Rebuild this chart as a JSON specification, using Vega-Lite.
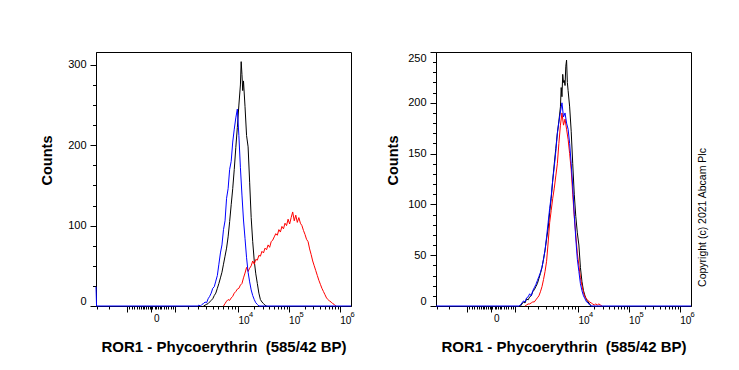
{
"$schema": "https://vega.github.io/schema/vega-lite/v6.json",
"background": "white",
"padding": {"left": 38, "top": 51, "right": 5, "bottom": 5},
"config": {
 "font": "Liberation Sans",
 "view": {"stroke": "#000", "strokeWidth": 1},
 "axis": {"domainColor": "#000", "tickColor": "#000", "labelColor": "#000", "titleColor": "#000", "labelFont": "Liberation Sans", "titleFont": "Liberation Sans", "titleFontSize": 14.5, "titleFontWeight": "bold", "grid": false, "domainWidth": 1, "tickWidth": 1},
 "axisX": {"labelFontSize": 10, "titleFontSize": 15},
 "axisY": {"labelFontSize": 11}
},
"spacing": 29,
"datasets": {"h": [
{"p":"L","s":"b","x":-2210,"y":24},{"p":"L","s":"b","x":-2150,"y":0},
{"p":"L","s":"b","x":1400,"y":0},{"p":"L","s":"b","x":1515,"y":1},{"p":"L","s":"b","x":1638,"y":0},{"p":"L","s":"b","x":1770,"y":2},{"p":"L","s":"b","x":1911,"y":3},{"p":"L","s":"b","x":2063,"y":5},{"p":"L","s":"b","x":2225,"y":4},{"p":"L","s":"b","x":2399,"y":9},{"p":"L","s":"b","x":2586,"y":12},{"p":"L","s":"b","x":2786,"y":16},{"p":"L","s":"b","x":3000,"y":22},{"p":"L","s":"b","x":3230,"y":24},{"p":"L","s":"b","x":3476,"y":31},{"p":"L","s":"b","x":3740,"y":38},{"p":"L","s":"b","x":4022,"y":52},{"p":"L","s":"b","x":4326,"y":66},{"p":"L","s":"b","x":4650,"y":76},{"p":"L","s":"b","x":4998,"y":95},{"p":"L","s":"b","x":5372,"y":106},{"p":"L","s":"b","x":5771,"y":134},{"p":"L","s":"b","x":6200,"y":146},{"p":"L","s":"b","x":6659,"y":170},{"p":"L","s":"b","x":7152,"y":180},{"p":"L","s":"b","x":7679,"y":204},{"p":"L","s":"b","x":8245,"y":220},{"p":"L","s":"b","x":8851,"y":234},{"p":"L","s":"b","x":9501,"y":245},{"p":"L","s":"b","x":10197,"y":212},{"p":"L","s":"b","x":10943,"y":172},{"p":"L","s":"b","x":11743,"y":138},{"p":"L","s":"b","x":12600,"y":107},{"p":"L","s":"b","x":13519,"y":84},{"p":"L","s":"b","x":14503,"y":60},{"p":"L","s":"b","x":15559,"y":42},{"p":"L","s":"b","x":16690,"y":30},{"p":"L","s":"b","x":17902,"y":20},{"p":"L","s":"b","x":19201,"y":13},{"p":"L","s":"b","x":20594,"y":8},{"p":"L","s":"b","x":22086,"y":4},{"p":"L","s":"b","x":23686,"y":2},{"p":"L","s":"b","x":25400,"y":0},{"p":"L","s":"b","x":1628000,"y":0},
{"p":"L","s":"k","x":1911,"y":0},{"p":"L","s":"k","x":2063,"y":1},{"p":"L","s":"k","x":2225,"y":2},{"p":"L","s":"k","x":2399,"y":3},{"p":"L","s":"k","x":2586,"y":5},{"p":"L","s":"k","x":2786,"y":7},{"p":"L","s":"k","x":3000,"y":9},{"p":"L","s":"k","x":3230,"y":13},{"p":"L","s":"k","x":3476,"y":16},{"p":"L","s":"k","x":3740,"y":22},{"p":"L","s":"k","x":4022,"y":28},{"p":"L","s":"k","x":4326,"y":35},{"p":"L","s":"k","x":4650,"y":42},{"p":"L","s":"k","x":4998,"y":52},{"p":"L","s":"k","x":5372,"y":62},{"p":"L","s":"k","x":5771,"y":72},{"p":"L","s":"k","x":6200,"y":86},{"p":"L","s":"k","x":6659,"y":105},{"p":"L","s":"k","x":7152,"y":126},{"p":"L","s":"k","x":7679,"y":146},{"p":"L","s":"k","x":8245,"y":170},{"p":"L","s":"k","x":8851,"y":197},{"p":"L","s":"k","x":9501,"y":222},{"p":"L","s":"k","x":10197,"y":250},{"p":"L","s":"k","x":10943,"y":275},{"p":"L","s":"k","x":11336,"y":304},{"p":"L","s":"k","x":11743,"y":288},{"p":"L","s":"k","x":12164,"y":268},{"p":"L","s":"k","x":12600,"y":280},{"p":"L","s":"k","x":13519,"y":248},{"p":"L","s":"k","x":14503,"y":212},{"p":"L","s":"k","x":15559,"y":198},{"p":"L","s":"k","x":16690,"y":154},{"p":"L","s":"k","x":17902,"y":110},{"p":"L","s":"k","x":19201,"y":80},{"p":"L","s":"k","x":20594,"y":56},{"p":"L","s":"k","x":22086,"y":40},{"p":"L","s":"k","x":23686,"y":28},{"p":"L","s":"k","x":25400,"y":16},{"p":"L","s":"k","x":27237,"y":8},{"p":"L","s":"k","x":29207,"y":5},{"p":"L","s":"k","x":31317,"y":3},{"p":"L","s":"k","x":33579,"y":1},{"p":"L","s":"k","x":36004,"y":0},
{"p":"L","s":"r","x":4998,"y":0},{"p":"L","s":"r","x":5372,"y":3},{"p":"L","s":"r","x":5771,"y":6},{"p":"L","s":"r","x":6200,"y":8},{"p":"L","s":"r","x":6659,"y":7},{"p":"L","s":"r","x":7152,"y":10},{"p":"L","s":"r","x":7679,"y":12},{"p":"L","s":"r","x":8245,"y":16},{"p":"L","s":"r","x":8851,"y":18},{"p":"L","s":"r","x":9501,"y":21},{"p":"L","s":"r","x":10197,"y":22},{"p":"L","s":"r","x":10943,"y":26},{"p":"L","s":"r","x":11743,"y":28},{"p":"L","s":"r","x":12600,"y":35},{"p":"L","s":"r","x":13519,"y":41},{"p":"L","s":"r","x":14503,"y":48},{"p":"L","s":"r","x":15559,"y":43},{"p":"L","s":"r","x":16690,"y":47},{"p":"L","s":"r","x":17902,"y":50},{"p":"L","s":"r","x":19201,"y":56},{"p":"L","s":"r","x":20594,"y":52},{"p":"L","s":"r","x":22086,"y":58},{"p":"L","s":"r","x":23686,"y":57},{"p":"L","s":"r","x":25400,"y":63},{"p":"L","s":"r","x":27237,"y":62},{"p":"L","s":"r","x":29207,"y":68},{"p":"L","s":"r","x":31317,"y":66},{"p":"L","s":"r","x":33579,"y":72},{"p":"L","s":"r","x":36004,"y":70},{"p":"L","s":"r","x":38602,"y":76},{"p":"L","s":"r","x":41387,"y":73},{"p":"L","s":"r","x":44372,"y":80},{"p":"L","s":"r","x":47571,"y":82},{"p":"L","s":"r","x":51000,"y":86},{"p":"L","s":"r","x":54675,"y":90},{"p":"L","s":"r","x":58613,"y":88},{"p":"L","s":"r","x":62835,"y":95},{"p":"L","s":"r","x":67359,"y":92},{"p":"L","s":"r","x":72208,"y":99},{"p":"L","s":"r","x":77405,"y":96},{"p":"L","s":"r","x":82975,"y":103},{"p":"L","s":"r","x":88944,"y":100},{"p":"L","s":"r","x":95343,"y":108},{"p":"L","s":"r","x":102200,"y":102},{"p":"L","s":"r","x":109550,"y":110},{"p":"L","s":"r","x":117427,"y":117},{"p":"L","s":"r","x":125869,"y":106},{"p":"L","s":"r","x":134918,"y":113},{"p":"L","s":"r","x":144616,"y":104},{"p":"L","s":"r","x":155009,"y":110},{"p":"L","s":"r","x":166149,"y":103},{"p":"L","s":"r","x":178089,"y":100},{"p":"L","s":"r","x":190885,"y":94},{"p":"L","s":"r","x":204600,"y":89},{"p":"L","s":"r","x":219299,"y":83},{"p":"L","s":"r","x":235053,"y":80},{"p":"L","s":"r","x":251938,"y":71},{"p":"L","s":"r","x":270035,"y":64},{"p":"L","s":"r","x":289431,"y":56},{"p":"L","s":"r","x":310219,"y":50},{"p":"L","s":"r","x":332499,"y":44},{"p":"L","s":"r","x":356377,"y":38},{"p":"L","s":"r","x":381970,"y":32},{"p":"L","s":"r","x":409400,"y":27},{"p":"L","s":"r","x":438798,"y":22},{"p":"L","s":"r","x":470307,"y":18},{"p":"L","s":"r","x":504077,"y":14},{"p":"L","s":"r","x":540270,"y":10},{"p":"L","s":"r","x":579062,"y":8},{"p":"L","s":"r","x":620638,"y":6},{"p":"L","s":"r","x":665197,"y":5},{"p":"L","s":"r","x":712955,"y":3},{"p":"L","s":"r","x":764141,"y":2},{"p":"L","s":"r","x":819000,"y":0},
{"p":"R","s":"k","x":546,"y":0},{"p":"R","s":"k","x":600,"y":2},{"p":"R","s":"k","x":657,"y":4},{"p":"R","s":"k","x":719,"y":3},{"p":"R","s":"k","x":785,"y":7},{"p":"R","s":"k","x":856,"y":6},{"p":"R","s":"k","x":931,"y":9},{"p":"R","s":"k","x":1013,"y":10},{"p":"R","s":"k","x":1100,"y":14},{"p":"R","s":"k","x":1193,"y":16},{"p":"R","s":"k","x":1293,"y":19},{"p":"R","s":"k","x":1400,"y":22},{"p":"R","s":"k","x":1515,"y":27},{"p":"R","s":"k","x":1638,"y":32},{"p":"R","s":"k","x":1770,"y":38},{"p":"R","s":"k","x":1911,"y":46},{"p":"R","s":"k","x":2063,"y":55},{"p":"R","s":"k","x":2225,"y":66},{"p":"R","s":"k","x":2399,"y":76},{"p":"R","s":"k","x":2586,"y":92},{"p":"R","s":"k","x":2786,"y":106},{"p":"R","s":"k","x":3000,"y":124},{"p":"R","s":"k","x":3230,"y":140},{"p":"R","s":"k","x":3476,"y":155},{"p":"R","s":"k","x":3740,"y":170},{"p":"R","s":"k","x":4022,"y":182},{"p":"R","s":"k","x":4326,"y":196},{"p":"R","s":"k","x":4485,"y":215},{"p":"R","s":"k","x":4650,"y":206},{"p":"R","s":"k","x":4821,"y":228},{"p":"R","s":"k","x":4998,"y":220},{"p":"R","s":"k","x":5182,"y":222},{"p":"R","s":"k","x":5372,"y":217},{"p":"R","s":"k","x":5568,"y":236},{"p":"R","s":"k","x":5771,"y":242},{"p":"R","s":"k","x":5982,"y":220},{"p":"R","s":"k","x":6200,"y":212},{"p":"R","s":"k","x":6659,"y":196},{"p":"R","s":"k","x":7152,"y":172},{"p":"R","s":"k","x":7679,"y":140},{"p":"R","s":"k","x":8245,"y":110},{"p":"R","s":"k","x":8851,"y":88},{"p":"R","s":"k","x":9501,"y":72},{"p":"R","s":"k","x":10197,"y":60},{"p":"R","s":"k","x":10943,"y":38},{"p":"R","s":"k","x":11743,"y":24},{"p":"R","s":"k","x":12600,"y":15},{"p":"R","s":"k","x":13519,"y":10},{"p":"R","s":"k","x":14503,"y":6},{"p":"R","s":"k","x":15559,"y":4},{"p":"R","s":"k","x":16690,"y":2},{"p":"R","s":"k","x":17902,"y":0},
{"p":"R","s":"r","x":719,"y":0},{"p":"R","s":"r","x":785,"y":1},{"p":"R","s":"r","x":856,"y":2},{"p":"R","s":"r","x":931,"y":2},{"p":"R","s":"r","x":1013,"y":3},{"p":"R","s":"r","x":1100,"y":4},{"p":"R","s":"r","x":1193,"y":4},{"p":"R","s":"r","x":1293,"y":6},{"p":"R","s":"r","x":1400,"y":8},{"p":"R","s":"r","x":1515,"y":10},{"p":"R","s":"r","x":1638,"y":14},{"p":"R","s":"r","x":1770,"y":19},{"p":"R","s":"r","x":1911,"y":26},{"p":"R","s":"r","x":2063,"y":34},{"p":"R","s":"r","x":2225,"y":44},{"p":"R","s":"r","x":2399,"y":62},{"p":"R","s":"r","x":2586,"y":82},{"p":"R","s":"r","x":2786,"y":94},{"p":"R","s":"r","x":3000,"y":106},{"p":"R","s":"r","x":3230,"y":116},{"p":"R","s":"r","x":3476,"y":128},{"p":"R","s":"r","x":3740,"y":140},{"p":"R","s":"r","x":4022,"y":160},{"p":"R","s":"r","x":4326,"y":178},{"p":"R","s":"r","x":4650,"y":190},{"p":"R","s":"r","x":4998,"y":178},{"p":"R","s":"r","x":5372,"y":184},{"p":"R","s":"r","x":5771,"y":174},{"p":"R","s":"r","x":6200,"y":164},{"p":"R","s":"r","x":6659,"y":150},{"p":"R","s":"r","x":7152,"y":134},{"p":"R","s":"r","x":7679,"y":110},{"p":"R","s":"r","x":8245,"y":88},{"p":"R","s":"r","x":8851,"y":70},{"p":"R","s":"r","x":9501,"y":52},{"p":"R","s":"r","x":10197,"y":40},{"p":"R","s":"r","x":10943,"y":28},{"p":"R","s":"r","x":11743,"y":20},{"p":"R","s":"r","x":12600,"y":13},{"p":"R","s":"r","x":13519,"y":9},{"p":"R","s":"r","x":14503,"y":7},{"p":"R","s":"r","x":15559,"y":5},{"p":"R","s":"r","x":16690,"y":4},{"p":"R","s":"r","x":17902,"y":3},{"p":"R","s":"r","x":19201,"y":2},{"p":"R","s":"r","x":20594,"y":1},{"p":"R","s":"r","x":22086,"y":2},{"p":"R","s":"r","x":23686,"y":1},{"p":"R","s":"r","x":25400,"y":2},{"p":"R","s":"r","x":27237,"y":1},{"p":"R","s":"r","x":29207,"y":0},
{"p":"R","s":"b","x":-2210,"y":0},{"p":"R","s":"b","x":496,"y":0},{"p":"R","s":"b","x":546,"y":1},{"p":"R","s":"b","x":600,"y":3},{"p":"R","s":"b","x":657,"y":5},{"p":"R","s":"b","x":719,"y":4},{"p":"R","s":"b","x":785,"y":8},{"p":"R","s":"b","x":856,"y":9},{"p":"R","s":"b","x":931,"y":12},{"p":"R","s":"b","x":1013,"y":10},{"p":"R","s":"b","x":1100,"y":15},{"p":"R","s":"b","x":1193,"y":18},{"p":"R","s":"b","x":1293,"y":21},{"p":"R","s":"b","x":1400,"y":25},{"p":"R","s":"b","x":1515,"y":29},{"p":"R","s":"b","x":1638,"y":33},{"p":"R","s":"b","x":1770,"y":38},{"p":"R","s":"b","x":1911,"y":46},{"p":"R","s":"b","x":2063,"y":55},{"p":"R","s":"b","x":2225,"y":68},{"p":"R","s":"b","x":2399,"y":82},{"p":"R","s":"b","x":2586,"y":96},{"p":"R","s":"b","x":2786,"y":108},{"p":"R","s":"b","x":3000,"y":124},{"p":"R","s":"b","x":3230,"y":137},{"p":"R","s":"b","x":3476,"y":152},{"p":"R","s":"b","x":3740,"y":170},{"p":"R","s":"b","x":4022,"y":181},{"p":"R","s":"b","x":4326,"y":191},{"p":"R","s":"b","x":4650,"y":200},{"p":"R","s":"b","x":4998,"y":186},{"p":"R","s":"b","x":5372,"y":190},{"p":"R","s":"b","x":5771,"y":180},{"p":"R","s":"b","x":6200,"y":174},{"p":"R","s":"b","x":6659,"y":160},{"p":"R","s":"b","x":7152,"y":140},{"p":"R","s":"b","x":7679,"y":118},{"p":"R","s":"b","x":8245,"y":90},{"p":"R","s":"b","x":8851,"y":66},{"p":"R","s":"b","x":9501,"y":46},{"p":"R","s":"b","x":10197,"y":34},{"p":"R","s":"b","x":10943,"y":22},{"p":"R","s":"b","x":11743,"y":15},{"p":"R","s":"b","x":12600,"y":10},{"p":"R","s":"b","x":13519,"y":7},{"p":"R","s":"b","x":14503,"y":4},{"p":"R","s":"b","x":15559,"y":3},{"p":"R","s":"b","x":16690,"y":1},{"p":"R","s":"b","x":17902,"y":0},{"p":"R","s":"b","x":1628000,"y":0}
]},
"hconcat": [
{
 "width": 255, "height": 254,
 "data": {"name": "h"},
 "transform": [{"filter": "datum.p == 'L'"}],
 "layer": [
  {"transform": [{"filter": "datum.s == 'k'"}],
   "mark": {"type": "line", "color": "#000000", "strokeWidth": 1},
   "encoding": {
    "x": {"field": "x", "type": "quantitative", "scale": {"type": "symlog", "constant": 200, "domain": [-2210, 1628000], "nice": false, "zero": false},
      "axis": {"orient": "bottom", "values": [-401, 0, 374, 10000, 100000, 1000000], "tickSize": 6, "labelPadding": 3.5, "labelOffset": 5, "labelOverlap": false, "labelExpr": "datum.value >= 10000 ? '10' : ''", "title": "ROR1 - Phycoerythrin\u00a0 (585/42 BP)", "titleY": 45, "titleBaseline": "alphabetic"}},
    "y": {"field": "y", "type": "quantitative", "scale": {"domain": [0, 316], "nice": false},
      "axis": {"orient": "left", "values": [0, 100, 200, 300], "tickSize": 6, "labelPadding": 4, "labelFlush": true, "title": "Counts", "titleX": -45, "titleY": 108, "titleBaseline": "alphabetic"}}
   }},
  {"transform": [{"filter": "datum.s == 'r'"}],
   "mark": {"type": "line", "color": "#ff0000", "strokeWidth": 1},
   "encoding": {
    "x": {"field": "x", "type": "quantitative",
      "axis": {"orient": "bottom", "values": [-2102, -1120, -334, -279, -226, -182, -149, -114, -91, -71, -51, -32, -9, 0, 9, 32, 51, 71, 91, 114, 149, 182, 226, 279, 334, 853, 1455, 2209, 3062, 3890, 4930, 6232, 7268, 8468, 20000, 30000, 40000, 50000, 60000, 70000, 80000, 90000, 200000, 300000, 400000, 500000, 600000, 700000, 800000, 900000], "tickSize": 3, "labelExpr": "datum.value == 0 ? '0' : ''", "labelOffset": 5, "labelPadding": 4.8, "labelOverlap": false, "domain": false, "title": null}},
    "y": {"field": "y", "type": "quantitative",
      "axis": {"orient": "left", "values": [25, 50, 75, 125, 150, 175, 225, 250, 275], "tickSize": 3.5, "labels": false, "domain": false, "title": null}}
   }},
  {"transform": [{"filter": "datum.s == 'b'"}],
   "mark": {"type": "line", "color": "#0000ff", "strokeWidth": 1},
   "encoding": {
    "x": {"field": "x", "type": "quantitative",
      "axis": {"orient": "bottom", "values": [10000, 100000, 1000000], "ticks": false, "tickSize": 0, "domain": false, "labelFontSize": 7.5, "labelOffset": 12, "labelPadding": 4.5, "labelOverlap": false, "labelExpr": "datum.value == 10000 ? '4' : datum.value == 100000 ? '5' : '6'", "title": null}},
    "y": {"field": "y", "type": "quantitative", "axis": null}
   }}
 ],
 "resolve": {"axis": {"x": "independent", "y": "independent"}}
},
{
 "width": 255, "height": 254,
 "data": {"name": "h"},
 "transform": [{"filter": "datum.p == 'R'"}],
 "layer": [
  {"transform": [{"filter": "datum.s == 'k'"}],
   "mark": {"type": "line", "color": "#000000", "strokeWidth": 1},
   "encoding": {
    "x": {"field": "x", "type": "quantitative", "scale": {"type": "symlog", "constant": 200, "domain": [-2210, 1628000], "nice": false, "zero": false},
      "axis": {"orient": "bottom", "values": [-401, 0, 374, 10000, 100000, 1000000], "tickSize": 6, "labelPadding": 3.5, "labelOffset": 5, "labelOverlap": false, "labelExpr": "datum.value >= 10000 ? '10' : ''", "title": "ROR1 - Phycoerythrin\u00a0 (585/42 BP)", "titleY": 45, "titleBaseline": "alphabetic"}},
    "y": {"field": "y", "type": "quantitative", "scale": {"domain": [0, 250], "nice": false},
      "axis": {"orient": "left", "values": [0, 50, 100, 150, 200, 250], "tickSize": 6, "labelPadding": 4, "labelFlush": true, "title": "Counts", "titleX": -38.6, "titleY": 108, "titleBaseline": "alphabetic"}}
   }},
  {"transform": [{"filter": "datum.s == 'r'"}],
   "mark": {"type": "line", "color": "#ff0000", "strokeWidth": 1},
   "encoding": {
    "x": {"field": "x", "type": "quantitative",
      "axis": {"orient": "bottom", "values": [-2102, -1120, -334, -279, -226, -182, -149, -114, -91, -71, -51, -32, -9, 0, 9, 32, 51, 71, 91, 114, 149, 182, 226, 279, 334, 853, 1455, 2209, 3062, 3890, 4930, 6232, 7268, 8468, 20000, 30000, 40000, 50000, 60000, 70000, 80000, 90000, 200000, 300000, 400000, 500000, 600000, 700000, 800000, 900000], "tickSize": 3, "labelExpr": "datum.value == 0 ? '0' : ''", "labelOffset": 5, "labelPadding": 4.8, "labelOverlap": false, "domain": false, "title": null}},
    "y": {"field": "y", "type": "quantitative",
      "axis": {"orient": "left", "values": [10, 20, 30, 40, 60, 70, 80, 90, 110, 120, 130, 140, 160, 170, 180, 190, 210, 220, 230, 240], "tickSize": 3.5, "labels": false, "domain": false, "title": null}}
   }},
  {"transform": [{"filter": "datum.s == 'b'"}],
   "mark": {"type": "line", "color": "#0000ff", "strokeWidth": 1},
   "encoding": {
    "x": {"field": "x", "type": "quantitative",
      "axis": {"orient": "bottom", "values": [10000, 100000, 1000000], "ticks": false, "tickSize": 0, "domain": false, "labelFontSize": 7.5, "labelOffset": 12, "labelPadding": 4.5, "labelOverlap": false, "labelExpr": "datum.value == 10000 ? '4' : datum.value == 100000 ? '5' : '6'", "title": null}},
    "y": {"field": "y", "type": "quantitative",
      "axis": {"orient": "right", "domain": false, "ticks": false, "labels": false, "title": "Copyright (c) 2021 Abcam Plc", "titleFontWeight": "normal", "titleFontSize": 10.5, "titleAngle": 270, "titleX": 14, "titleY": 165, "titleBaseline": "alphabetic"}}
   }}
 ],
 "resolve": {"axis": {"x": "independent", "y": "independent"}}
}
]
}
